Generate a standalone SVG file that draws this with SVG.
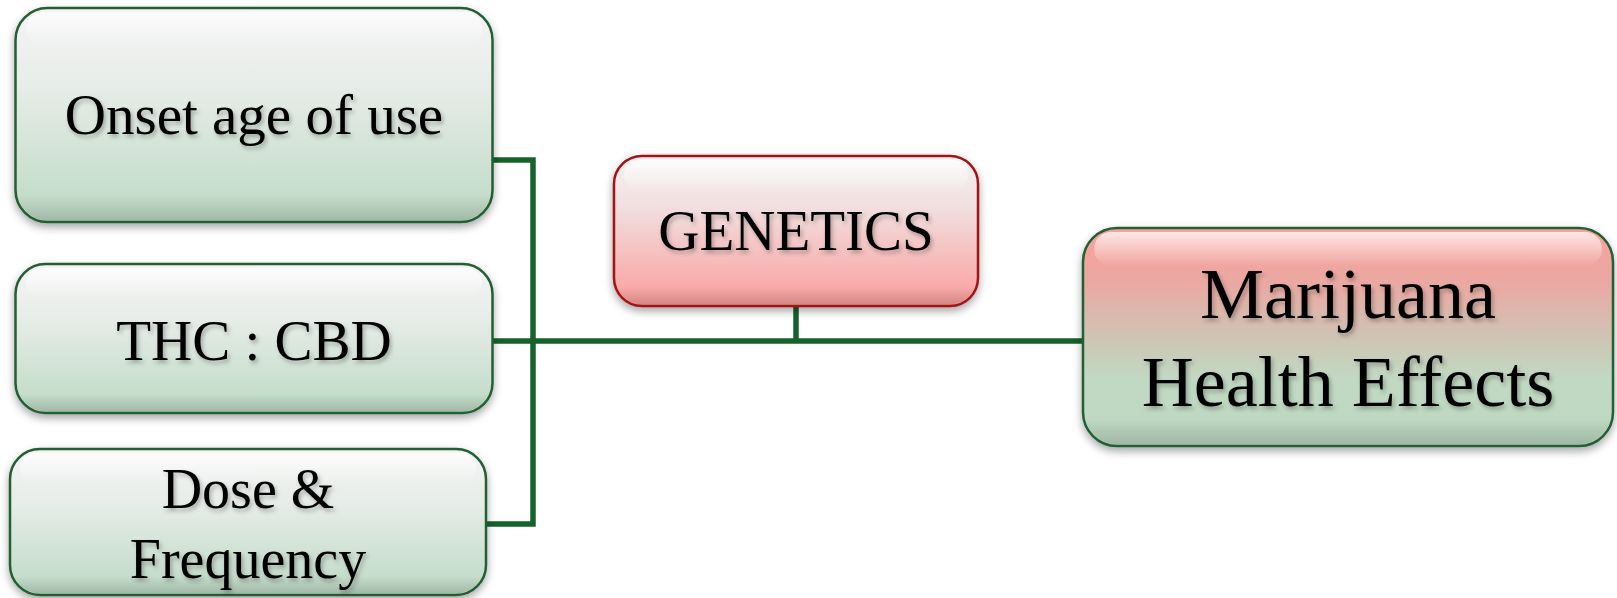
<svg xmlns="http://www.w3.org/2000/svg" width="1617" height="598" viewBox="0 0 1617 598">
  <defs>
    <linearGradient id="gGreen" x1="0" y1="0" x2="0" y2="1">
      <stop offset="0" stop-color="#f4f4f4"/>
      <stop offset="0.35" stop-color="#e8ede9"/>
      <stop offset="1" stop-color="#bdd9c4"/>
    </linearGradient>
    <linearGradient id="gRed" x1="0" y1="0" x2="0" y2="1">
      <stop offset="0" stop-color="#f5f3f3"/>
      <stop offset="0.35" stop-color="#f2dede"/>
      <stop offset="1" stop-color="#f99e9c"/>
    </linearGradient>
    <linearGradient id="gMix" x1="0" y1="0" x2="0" y2="1">
      <stop offset="0" stop-color="#f9a09c"/>
      <stop offset="0.25" stop-color="#eba8a2"/>
      <stop offset="0.5" stop-color="#cfc4b4"/>
      <stop offset="0.7" stop-color="#c1d9c3"/>
      <stop offset="1" stop-color="#bcd8c2"/>
    </linearGradient>
    <linearGradient id="gloss" x1="0" y1="0" x2="0" y2="1">
      <stop offset="0" stop-color="#ffffff" stop-opacity="0.75"/>
      <stop offset="1" stop-color="#ffffff" stop-opacity="0"/>
    </linearGradient>
    <linearGradient id="edge" x1="0" y1="0" x2="0" y2="1">
      <stop offset="0" stop-color="#000000" stop-opacity="0"/>
      <stop offset="0.88" stop-color="#000000" stop-opacity="0"/>
      <stop offset="1" stop-color="#000000" stop-opacity="0.15"/>
    </linearGradient>
    <filter id="shadow" x="-10%" y="-10%" width="120%" height="130%">
      <feDropShadow dx="0" dy="4" stdDeviation="4" flood-color="#000" flood-opacity="0.35"/>
    </filter>
    <filter id="tshadow" x="-10%" y="-20%" width="120%" height="150%">
      <feDropShadow dx="2" dy="3" stdDeviation="2" flood-color="#000" flood-opacity="0.28"/>
    </filter>
  </defs>
  <style>
    .box { stroke-width: 2.5; filter: url(#shadow); }
    .green { fill: url(#gGreen); stroke: #245f33; }
    .red { fill: url(#gRed); stroke: #a01515; }
    .mix { fill: url(#gMix); stroke: #245f33; }
    .gloss { fill: url(#gloss); }
    .edge { fill: url(#edge); }
    .lbl { font-family: "Liberation Serif", "Times New Roman", serif; fill: #000; text-anchor: middle; filter: url(#tshadow); }
    .conn { fill: none; stroke: #17612b; stroke-width: 5.5; stroke-linejoin: miter; }
  </style>
  <rect width="1617" height="598" fill="#ffffff"/>

  <g id="connectors">
    <path class="conn" d="M492,160 H533 V524 H486"/>
    <path class="conn" d="M492,341 H1084"/>
    <path class="conn" d="M796,305 V341"/>
  </g>

  <g id="node-onset">
    <rect class="box green" x="15.5" y="8" width="477" height="214" rx="32"/>
    <rect class="edge" x="17" y="9.5" width="474" height="211" rx="31"/>
    <rect class="gloss" x="26" y="12" width="456" height="34" rx="17"/>
    <text class="lbl" x="254" y="134" font-size="57">Onset age of use</text>
  </g>

  <g id="node-thc">
    <rect class="box green" x="15.5" y="264" width="477" height="149" rx="30"/>
    <rect class="edge" x="17" y="265.5" width="474" height="146" rx="29"/>
    <rect class="gloss" x="26" y="268" width="456" height="30" rx="15"/>
    <text class="lbl" x="254" y="360" font-size="57">THC : CBD</text>
  </g>

  <g id="node-dose">
    <rect class="box green" x="10" y="449" width="476" height="146" rx="30"/>
    <rect class="edge" x="11.5" y="450.5" width="473" height="143" rx="29"/>
    <rect class="gloss" x="20" y="453" width="456" height="30" rx="15"/>
    <text class="lbl" x="248" y="508" font-size="56">Dose &amp;</text>
    <text class="lbl" x="248" y="578" font-size="56">Frequency</text>
  </g>

  <g id="node-genetics">
    <rect class="box red" x="614" y="156" width="364" height="150" rx="28"/>
    <rect class="edge" x="615.5" y="157.5" width="361" height="147" rx="27"/>
    <rect class="gloss" x="624" y="160" width="344" height="30" rx="15"/>
    <text class="lbl" x="796" y="250" font-size="57">GENETICS</text>
  </g>

  <g id="node-marijuana">
    <rect class="box mix" x="1083" y="228" width="530" height="218" rx="34"/>
    <rect class="edge" x="1084.5" y="229.5" width="527" height="215" rx="33"/>
    <rect class="gloss" x="1094" y="232" width="508" height="34" rx="17"/>
    <text class="lbl" x="1348" y="318" font-size="72">Marijuana</text>
    <text class="lbl" x="1348" y="406" font-size="72">Health Effects</text>
  </g>
</svg>
